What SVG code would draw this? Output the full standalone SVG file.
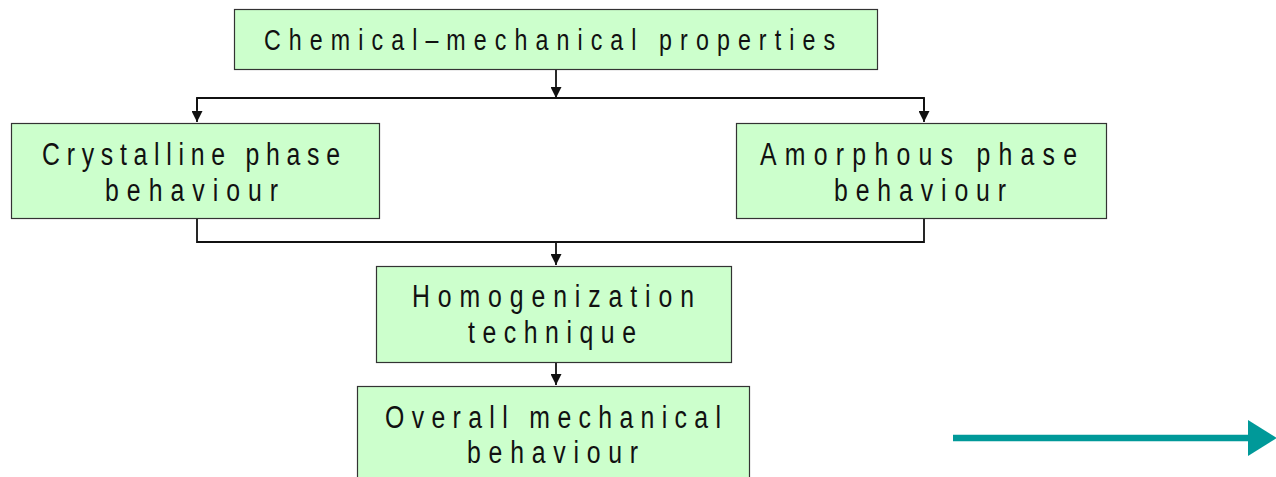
<svg xmlns="http://www.w3.org/2000/svg" width="1276" height="477" viewBox="0 0 1276 477">
<style>
.box{fill:#ccffcc;stroke:#333333;stroke-width:1.2}
.t{font-family:"Liberation Sans",Arial,sans-serif;font-size:31px;fill:#111111}
.c{fill:none;stroke:#111111;stroke-width:1.8}
</style>
<defs>
<marker id="ah" viewBox="0 0 10 10" refX="10" refY="5" markerWidth="11" markerHeight="11" markerUnits="userSpaceOnUse" orient="auto">
<path d="M0,0 L10,5 L0,10 Z" fill="#111111"/>
</marker>
</defs>
<g id="connectors">
<line class="c" x1="556" y1="69" x2="556" y2="98" marker-end="url(#ah)"/>
<polyline class="c" points="197,110 197,98 924,98 924,110"/>
<line class="c" x1="197" y1="98" x2="197" y2="122" marker-end="url(#ah)"/>
<line class="c" x1="924" y1="98" x2="924" y2="122" marker-end="url(#ah)"/>
<polyline class="c" points="197,218 197,242 924,242 924,218"/>
<line class="c" x1="556" y1="242" x2="556" y2="265" marker-end="url(#ah)"/>
<line class="c" x1="556" y1="362" x2="556" y2="385" marker-end="url(#ah)"/>
</g>
<g id="n1">
<rect class="box" x="234.5" y="9.5" width="643" height="60"/>
<text class="t" style="font-size:29px" transform="scale(0.8,1)" x="330" y="50" textLength="713.8" lengthAdjust="spacing">Chemical–mechanical properties</text>
</g>
<g id="n2">
<rect class="box" x="11.5" y="123.5" width="368" height="95"/>
<text class="t" transform="scale(0.8,1)" x="52.5" y="165" textLength="372.5" lengthAdjust="spacing">Crystalline phase</text>
<text class="t" transform="scale(0.8,1)" x="131.3" y="201" textLength="216.3" lengthAdjust="spacing">behaviour</text>
</g>
<g id="n3">
<rect class="box" x="736.5" y="123.5" width="370" height="95"/>
<text class="t" transform="scale(0.8,1)" x="950" y="165" textLength="396.3" lengthAdjust="spacing">Amorphous phase</text>
<text class="t" transform="scale(0.8,1)" x="1042.5" y="201" textLength="215" lengthAdjust="spacing">behaviour</text>
</g>
<g id="n4">
<rect class="box" x="376.5" y="266.5" width="355" height="96"/>
<text class="t" transform="scale(0.8,1)" x="515" y="307" textLength="352.5" lengthAdjust="spacing">Homogenization</text>
<text class="t" transform="scale(0.8,1)" x="585" y="343" textLength="210" lengthAdjust="spacing">technique</text>
</g>
<g id="n5">
<rect class="box" x="357.5" y="386.5" width="392" height="100"/>
<text class="t" transform="scale(0.8,1)" x="481.3" y="428" textLength="420" lengthAdjust="spacing">Overall mechanical</text>
<text class="t" transform="scale(0.8,1)" x="583.8" y="463" textLength="213.8" lengthAdjust="spacing">behaviour</text>
</g>
<g id="teal-arrow">
<line x1="953" y1="438" x2="1250" y2="438" stroke="#009999" stroke-width="6.5"/>
<path d="M1248,420 L1277,438 L1248,456 Z" fill="#009999"/>
</g>
</svg>
